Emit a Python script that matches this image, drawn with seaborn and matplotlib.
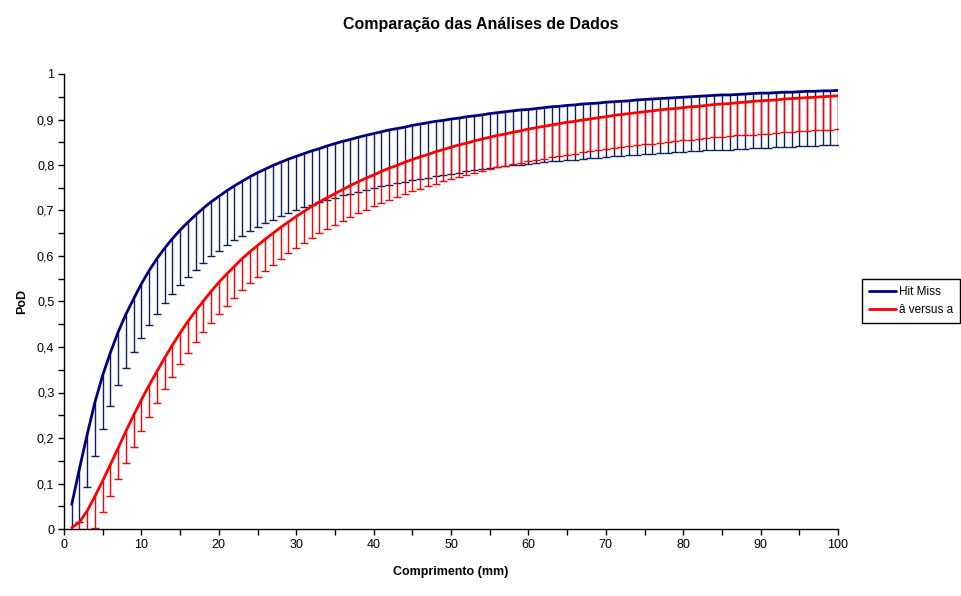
import numpy as np
import pandas as pd
import matplotlib
matplotlib.use("Agg")
import matplotlib.pyplot as plt
from matplotlib.ticker import MultipleLocator, FuncFormatter
from matplotlib.lines import Line2D
import seaborn as sns

# crack length (mm), one point per mm
comprimento = list(range(1, 101))

# Hit/Miss PoD curve and its lower bound
hitmiss_pod = [
    0.054, 0.133, 0.208, 0.279, 0.338, 0.388, 0.433, 0.472, 0.506, 0.539,
    0.568, 0.594, 0.617, 0.638, 0.657, 0.674, 0.690, 0.705, 0.719, 0.731,
    0.743, 0.754, 0.764, 0.774, 0.783, 0.791, 0.799, 0.806, 0.813, 0.819,
    0.825, 0.831, 0.836, 0.842, 0.847, 0.852, 0.856, 0.861, 0.865, 0.869,
    0.873, 0.877, 0.880, 0.883, 0.887, 0.890, 0.893, 0.896, 0.898, 0.901,
    0.903, 0.906, 0.908, 0.910, 0.913, 0.915, 0.917, 0.919, 0.921, 0.922,
    0.924, 0.926, 0.928, 0.929, 0.931, 0.932, 0.934, 0.935, 0.936, 0.938,
    0.939, 0.940, 0.941, 0.943, 0.944, 0.945, 0.946, 0.947, 0.948, 0.949,
    0.950, 0.951, 0.952, 0.953, 0.954, 0.954, 0.955, 0.956, 0.957, 0.958,
    0.958, 0.959, 0.960, 0.960, 0.961, 0.962, 0.962, 0.963, 0.963, 0.964,
]
hitmiss_lower = [
    -0.066, 0.015, 0.092, 0.160, 0.220, 0.271, 0.316, 0.354, 0.389, 0.420,
    0.448, 0.473, 0.496, 0.517, 0.536, 0.554, 0.570, 0.585, 0.599, 0.612,
    0.624, 0.635, 0.645, 0.655, 0.664, 0.672, 0.680, 0.687, 0.694, 0.701,
    0.707, 0.713, 0.719, 0.724, 0.728, 0.733, 0.737, 0.741, 0.745, 0.749,
    0.753, 0.756, 0.760, 0.763, 0.766, 0.769, 0.772, 0.775, 0.778, 0.781,
    0.783, 0.786, 0.788, 0.791, 0.793, 0.795, 0.797, 0.799, 0.801, 0.802,
    0.804, 0.806, 0.808, 0.809, 0.811, 0.812, 0.814, 0.815, 0.816, 0.818,
    0.819, 0.820, 0.821, 0.823, 0.824, 0.825, 0.826, 0.827, 0.828, 0.829,
    0.830, 0.831, 0.832, 0.833, 0.834, 0.834, 0.835, 0.836, 0.837, 0.838,
    0.838, 0.839, 0.840, 0.840, 0.841, 0.842, 0.842, 0.843, 0.843, 0.844,
]

# â versus a PoD curve and its lower bound
ahat_pod = [
    0.003, 0.015, 0.040, 0.072, 0.106, 0.142, 0.178, 0.215, 0.250, 0.284,
    0.316, 0.346, 0.376, 0.404, 0.431, 0.456, 0.479, 0.501, 0.522, 0.542,
    0.560, 0.577, 0.594, 0.609, 0.623, 0.637, 0.650, 0.663, 0.675, 0.687,
    0.698, 0.709, 0.719, 0.728, 0.737, 0.746, 0.755, 0.763, 0.771, 0.778,
    0.786, 0.793, 0.799, 0.806, 0.812, 0.818, 0.823, 0.829, 0.834, 0.839,
    0.844, 0.848, 0.853, 0.857, 0.861, 0.865, 0.868, 0.872, 0.875, 0.879,
    0.882, 0.885, 0.888, 0.891, 0.894, 0.896, 0.899, 0.901, 0.904, 0.906,
    0.909, 0.911, 0.913, 0.915, 0.917, 0.919, 0.921, 0.923, 0.924, 0.926,
    0.928, 0.929, 0.931, 0.933, 0.934, 0.935, 0.937, 0.938, 0.940, 0.941,
    0.942, 0.943, 0.945, 0.946, 0.947, 0.948, 0.949, 0.950, 0.951, 0.952,
]
ahat_lower = [
    -0.066, -0.054, -0.029, 0.003, 0.037, 0.073, 0.109, 0.146, 0.181, 0.215,
    0.247, 0.277, 0.307, 0.335, 0.362, 0.387, 0.410, 0.432, 0.453, 0.473,
    0.491, 0.508, 0.525, 0.540, 0.554, 0.568, 0.581, 0.594, 0.606, 0.618,
    0.629, 0.640, 0.650, 0.659, 0.668, 0.677, 0.686, 0.694, 0.702, 0.709,
    0.716, 0.723, 0.729, 0.736, 0.742, 0.748, 0.753, 0.759, 0.764, 0.769,
    0.774, 0.778, 0.783, 0.787, 0.791, 0.795, 0.798, 0.802, 0.805, 0.809,
    0.811, 0.814, 0.817, 0.820, 0.823, 0.825, 0.828, 0.830, 0.833, 0.835,
    0.838, 0.840, 0.842, 0.844, 0.846, 0.847, 0.849, 0.851, 0.852, 0.854,
    0.856, 0.857, 0.859, 0.861, 0.862, 0.863, 0.865, 0.866, 0.867, 0.868,
    0.869, 0.870, 0.872, 0.873, 0.874, 0.875, 0.876, 0.877, 0.878, 0.879,
]

series_names = ["Hit Miss", "â versus a"]
line_colors = ["#000080", "#FF0000"]
bar_colors = ["#0B1F5E", "#FF0000"]

sns.set_style("ticks")
plt.rcParams["font.family"] = ["Liberation Sans", "DejaVu Sans"]
plt.rcParams["text.color"] = "black"
plt.rcParams["axes.labelcolor"] = "black"
plt.rcParams["xtick.color"] = "black"
plt.rcParams["ytick.color"] = "black"

df = pd.DataFrame({
    "x": comprimento * 2,
    "pod": hitmiss_pod + ahat_pod,
    "lower": hitmiss_lower + ahat_lower,
    "serie": [series_names[0]] * 100 + [series_names[1]] * 100,
})

fig = plt.figure(figsize=(9.62, 5.96), dpi=100)
ax = fig.add_axes([64 / 962, 67 / 596, 774 / 962, 455 / 596])

for name, lc, bc in zip(series_names, line_colors, bar_colors):
    d = df[df["serie"] == name]
    # lower confidence bars with a cap at the bottom end only
    ax.vlines(d["x"], d["lower"], d["pod"], colors=bc, linewidth=1.0, zorder=2)
    ax.plot(d["x"], d["lower"], ls="none", marker="_", ms=6, mew=1.0,
            color=bc, zorder=2)
    sns.lineplot(data=d, x="x", y="pod", color=lc, linewidth=2.0, ax=ax,
                 legend=False, zorder=3)

ax.set_xlim(0, 100)
ax.set_ylim(0, 1)
ax.xaxis.set_major_locator(MultipleLocator(10))
ax.xaxis.set_minor_locator(MultipleLocator(5))
ax.yaxis.set_major_locator(MultipleLocator(0.1))
ax.yaxis.set_minor_locator(MultipleLocator(0.05))
ax.yaxis.set_major_formatter(FuncFormatter(lambda v, p: f"{v:.1f}".rstrip("0").rstrip(".").replace(".", ",")))
ax.tick_params(which="both", direction="out", length=4, width=1, colors="black",
               labelsize=9, pad=3)

for s in ["top", "right"]:
    ax.spines[s].set_visible(False)
for s in ["left", "bottom"]:
    ax.spines[s].set_color("black")
    ax.spines[s].set_linewidth(1.0)

ax.set_xlabel("Comprimento (mm)", fontsize=9, fontweight="bold", color="black")
ax.set_ylabel("PoD", fontsize=9, fontweight="bold", color="black")
ax.xaxis.set_label_coords(0.5, -43 / 455)
ax.xaxis.label.set_va("center")
ax.yaxis.set_label_coords(-42 / 774, 0.5)
ax.yaxis.label.set_va("center")

fig.text(481 / 962, 1 - 24 / 596, "Comparação das Análises de Dados",
         ha="center", va="center", fontsize=11.5, fontweight="bold", color="black")

handles = [Line2D([], [], color=c, lw=2.0) for c in line_colors]
leg = fig.legend(handles, series_names, loc="center left",
                 bbox_to_anchor=(862 / 962, 1 - 301 / 596), fontsize=8.5,
                 frameon=True, fancybox=False, shadow=False, framealpha=1,
                 edgecolor="black", handlelength=2.3, handletextpad=0.2,
                 borderpad=0.6, labelspacing=0.55, borderaxespad=0)
leg.get_frame().set_linewidth(1.0)
for t in leg.get_texts():
    t.set_color("black")

fig.savefig("out.png", dpi=100)
